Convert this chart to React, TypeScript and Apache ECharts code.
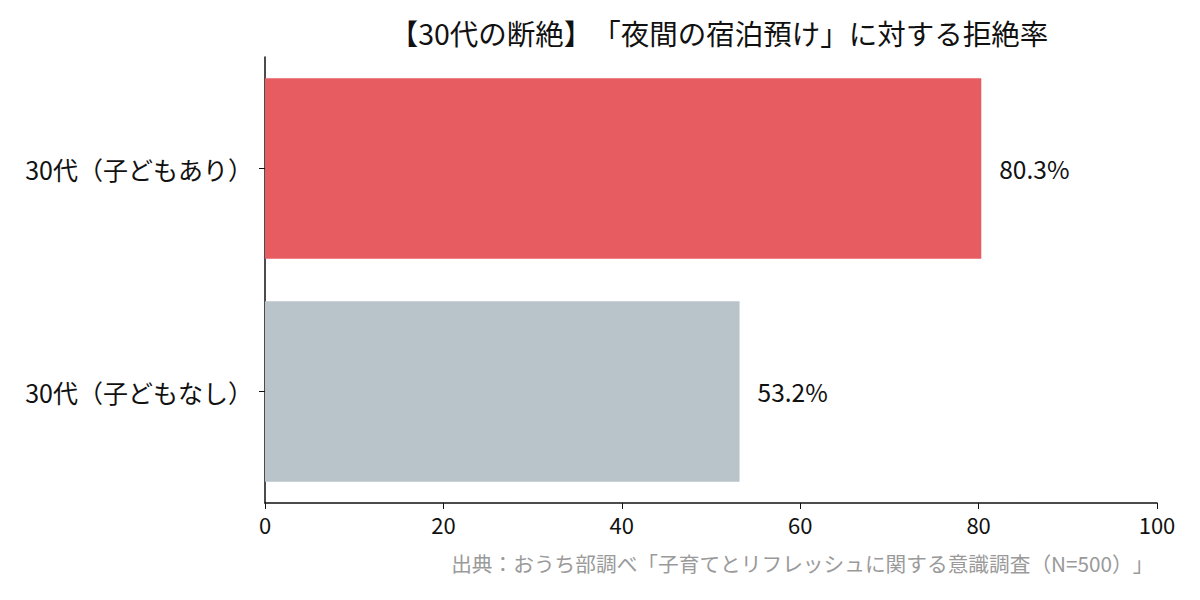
import React, { useEffect, useRef } from 'react';
import * as echarts from 'echarts';

const categories = ['30代（子どもあり）', '30代（子どもなし）'];
const values = [80.3, 53.2];
const barColors = ['#E75C60', '#B8C3CA'];
const titleText = '【30代の断絶】「夜間の宿泊預け」に対する拒絶率';
const sourceText = '出典：おうち部調べ「子育てとリフレッシュに関する意識調査（N=500）」';

const FONT = '"Noto Sans CJK JP", "Noto Sans", sans-serif';

const App: React.FC = () => {
  const chartRef = useRef<HTMLDivElement>(null);

  useEffect(() => {
    if (!chartRef.current) return;
    const chart = echarts.init(chartRef.current, undefined, { renderer: 'svg' });

    const option = {
      animation: false,
      backgroundColor: '#ffffff',
      textStyle: { fontFamily: FONT },
      title: {
        text: titleText,
        left: 714,
        top: 13,
        textAlign: 'center',
        textStyle: { fontFamily: FONT, fontSize: 28.5, fontWeight: 'normal', color: '#111111' }
      },
      graphic: [
        {
          type: 'text',
          right: 57,
          top: 553,
          style: { text: sourceText, fontFamily: FONT, fontSize: 20.7, fill: '#9a9a9a' }
        }
      ],
      grid: { left: 265, right: 43, top: 57, bottom: 97 },
      xAxis: {
        type: 'value',
        min: 0,
        max: 100,
        interval: 20,
        axisLine: { show: true, lineStyle: { color: '#111111', width: 1.5 } },
        axisTick: { show: true, length: 6, lineStyle: { color: '#111111' } },
        axisLabel: { fontFamily: FONT, fontSize: 22, color: '#111111', margin: 10 },
        splitLine: { show: false }
      },
      yAxis: {
        type: 'category',
        data: categories,
        inverse: true,
        axisLine: { show: true, lineStyle: { color: '#111111', width: 1.5 } },
        axisTick: { show: true, alignWithLabel: true, length: 6, lineStyle: { color: '#111111' } },
        axisLabel: { fontFamily: FONT, fontSize: 25, color: '#111111', margin: 12 }
      },
      series: [
        {
          type: 'bar',
          data: values.map((v, i) => ({ value: v, itemStyle: { color: barColors[i] } })),
          barWidth: '81%',
          label: {
            show: true,
            position: 'right',
            distance: 18,
            formatter: (p: any) => `${p.value.toFixed(1)}%`,
            fontFamily: FONT,
            fontSize: 24.5,
            color: '#111111'
          }
        }
      ]
    };

    chart.setOption(option);
    return () => chart.dispose();
  }, []);

  return (
    <div
      ref={chartRef}
      style={{
        position: 'fixed',
        left: 0,
        top: 0,
        width: 1200,
        height: 600,
        textSpacingTrim: 'space-all'
      } as React.CSSProperties}
    />
  );
};

export default App;
